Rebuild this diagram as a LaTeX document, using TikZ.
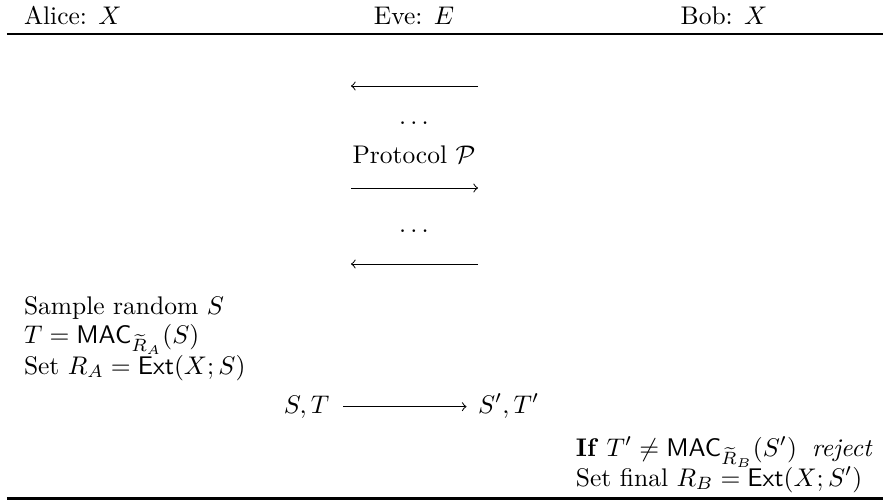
\documentclass[tikz,border=0pt]{standalone}
\usepackage{amsmath}
\usetikzlibrary{calc}
\begin{document}
\begin{tikzpicture}[x=0.3922pt,y=-0.3922pt,
  lt/.style={inner sep=0pt, outer sep=0pt, anchor=base west},
  ct/.style={inner sep=0pt, outer sep=0pt, anchor=base},
  msg/.style={->, line width=0.4pt},
  midr/.style={line width=0.5pt},
  botr/.style={line width=0.8pt}]
\useasboundingbox (0,0) rectangle (883,501);
% header
\node[lt] (alice) at (24,24) {Alice: $X$};
\node[ct] (eve) at (414,24) {Eve: $E$};
\node[ct] (bob) at (724,24) {Bob: $X$};
\coordinate (r1l) at (7,34);
\coordinate (r1r) at (883,34);
\draw[midr] (r1l) -- (r1r);
% protocol P exchange
\coordinate (a1r) at (478,86);
\coordinate (a1l) at (351,86);
\draw[msg] (a1r) -- (a1l);
\node[ct] (dots1) at (414,124) {$\ldots$};
\node[ct] (proto) at (414,163) {Protocol $\mathcal{P}$};
\coordinate (a2l) at (351,188);
\coordinate (a2r) at (478,188);
\draw[msg] (a2l) -- (a2r);
\node[ct] (dots2) at (414,232) {$\ldots$};
\coordinate (a3r) at (478,264);
\coordinate (a3l) at (351,264);
\draw[msg] (a3r) -- (a3l);
% Alice
\node[lt] (l1) at (24,314) {Sample random $S$};
\node[lt] (l2) at (24,343) {$T = \mathsf{MAC}_{\widetilde{R}_A}(S)$};
\node[lt] (l3) at (24,374) {Set $R_A = \mathsf{Ext}(X;S)$};
% message
\node[lt] (st) at (284,413) {$S,T$};
\node[lt] (stp) at (478,413) {$S',T'$};
\draw[msg] ([xshift=5.5pt,yshift=2.5pt]st.base east) -- ([xshift=-4.5pt,yshift=2.5pt]stp.base west);
% Bob
\node[lt] (b1) at (576,456) {\textbf{If} $T' \neq \mathsf{MAC}_{\widetilde{R}_B}(S')$\hspace{2.5pt} \emph{reject}};
\node[lt] (b2) at (576,486) {Set final $R_B = \mathsf{Ext}(X;S')$};
\coordinate (r2l) at (7,498.5);
\coordinate (r2r) at (883,498.5);
\draw[botr] (r2l) -- (r2r);
\end{tikzpicture}
\end{document}
